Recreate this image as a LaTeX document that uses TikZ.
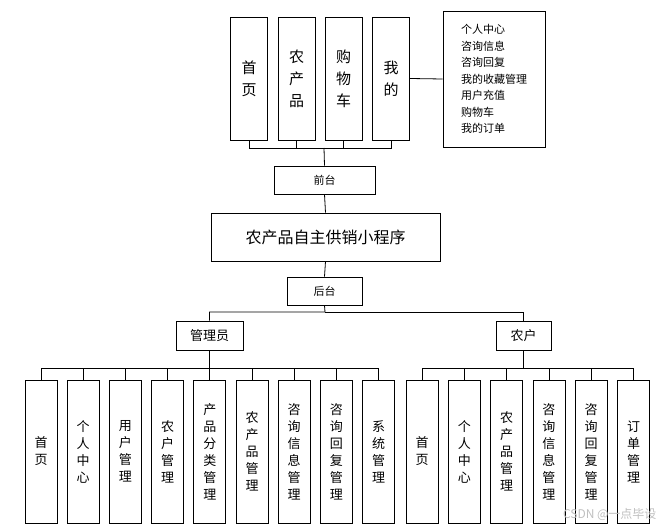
\documentclass[tikz,border=0pt]{standalone}
\usepackage{fontspec}
\setmainfont{Noto Sans CJK SC}
\begin{document}
\begin{tikzpicture}[x=1pt,y=-1pt,
 box/.style={draw,thick,inner sep=0pt,align=center},
 ln/.style={draw,thick},
 vt/.style={box,minimum width=32pt,minimum height=143pt,font=\fontsize{13}{17}\selectfont},
 tp/.style={box,minimum width=37pt,minimum height=123pt,font=\fontsize{15}{22}\selectfont}]
\useasboundingbox (0,0) rectangle (667,532);
% top
\node[tp] (t1) at (249,78.5) {首\\页};
\node[tp] (t2) at (296.5,78.5) {农\\产\\品};
\node[tp] (t3) at (343.5,78.5) {购\\物\\车};
\node[tp] (t4) at (391,78.5) {我\\的};
\node[box,minimum width=102pt,minimum height=136pt,align=left,font=\fontsize{11}{16.5}\selectfont] (list) at (494,79) {个人中心\\咨询信息\\咨询回复\\我的收藏管理\\用户充值\\购物车\\我的订单};
\draw[ln] (t4.east) -- (list.west);
\node[box,minimum width=101pt,minimum height=28pt,font=\fontsize{11}{13}\selectfont] (qt) at (324.5,180) {前台};
\coordinate (qb) at (324,148);
\draw[ln] (t1.south) -- (249,148) -- (391,148) -- (t4.south);
\draw[ln] (t2.south) -- (296.5,148);
\draw[ln] (t3.south) -- (343.5,148);
\draw[ln] (qb) -- (qt.north);
\node[box,minimum width=229pt,minimum height=48pt,font=\fontsize{16}{18}\selectfont] (main) at (325.5,237) {农产品自主供销小程序};
\draw[ln] (qt.south) -- (main.north);
\node[box,minimum width=75pt,minimum height=28pt,font=\fontsize{11}{13}\selectfont] (ht) at (324.5,291) {后台};
\draw[ln] (main.south) -- (ht.north);
\node[box,minimum width=67pt,minimum height=29pt,font=\fontsize{13}{15}\selectfont] (gly) at (209.5,335.5) {管理员};
\node[box,minimum width=55pt,minimum height=29pt,font=\fontsize{13}{15}\selectfont] (nh) at (523.5,335.5) {农户};
\draw[ln] (ht.south) -- (325,312) -- (209.5,312) -- (gly.north);
\draw[ln] (325,312) -- (523.5,312) -- (nh.north);
% admin children
\foreach \i/\t in {0/首\\页,1/个\\人\\中\\心,2/用\\户\\管\\理,3/农\\户\\管\\理,4/产\\品\\分\\类\\管\\理,5/农\\产\\品\\管\\理,6/咨\\询\\信\\息\\管\\理,7/咨\\询\\回\\复\\管\\理,8/系\\统\\管\\理}{
  \node[vt] (a\i) at ({41+42.2*\i},451.5) {\t};
  \draw[ln] (a\i.north) -- ({41+42.2*\i},368);
}
\draw[ln] (a0.north |- 0,368) -- (a8.north |- 0,368);
\draw[ln] (gly.south) -- (209.5,368);
\foreach \i/\t in {0/首\\页,1/个\\人\\中\\心,2/农\\产\\品\\管\\理,3/咨\\询\\信\\息\\管\\理,4/咨\\询\\回\\复\\管\\理,5/订\\单\\管\\理}{
  \node[vt] (b\i) at ({422+42.3*\i},451.5) {\t};
  \draw[ln] (b\i.north) -- ({422+42.3*\i},368);
}
\draw[ln] (b0.north |- 0,368) -- (b5.north |- 0,368);
\draw[ln] (nh.south) -- (523.5,368);
\node[text=gray!50,font=\fontsize{12}{14}\selectfont,anchor=east] (wm) at (660,514) {CSDN @一点毕设};
\end{tikzpicture}
\end{document}
